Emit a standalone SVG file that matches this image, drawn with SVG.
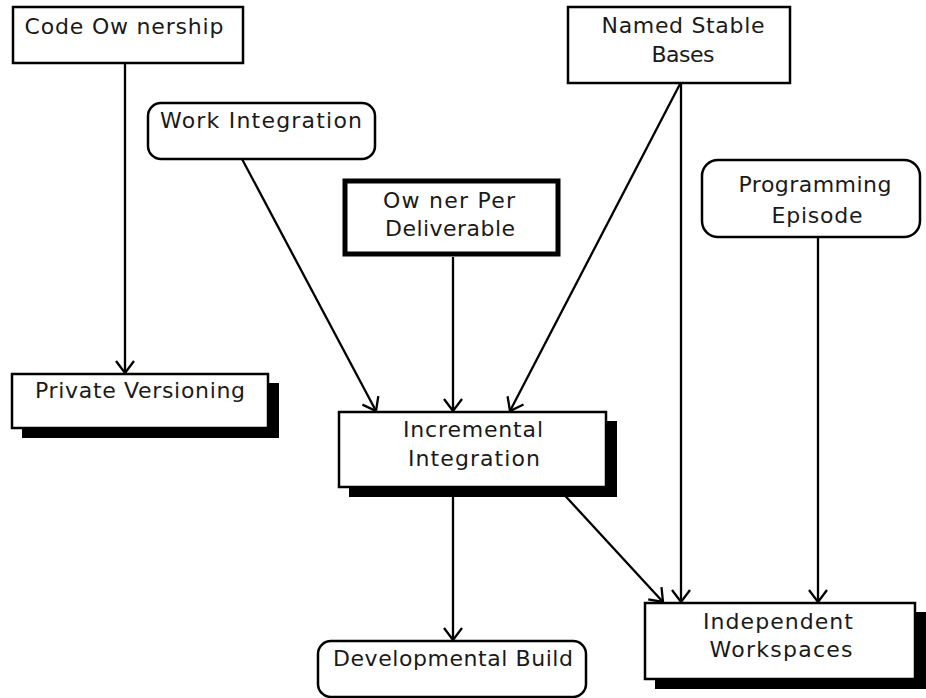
<svg xmlns="http://www.w3.org/2000/svg" width="926" height="698" viewBox="0 0 926 698">
<style>
.box{fill:#fff;stroke:#000;stroke-width:2.5}
.thick{fill:#fff;stroke:#000;stroke-width:5}
.shadow{fill:#000}
.t{font-family:"DejaVu Sans","Liberation Sans",sans-serif;font-size:22px;fill:#1a1a1a;text-anchor:middle}
.c{fill:none;stroke:#000;stroke-width:2.3}
</style>
<defs>
<marker id="arr" viewBox="0 0 14 20" refX="13" refY="10" markerWidth="14" markerHeight="20" markerUnits="userSpaceOnUse" orient="auto">
<path d="M1,1 L13,10 L1,19" fill="none" stroke="#000" stroke-width="2.3"/>
</marker>
</defs>
<rect width="926" height="698" fill="#fff"/>
<g id="connectors">
<line class="c" x1="125" y1="64" x2="125" y2="373" marker-end="url(#arr)"/>
<line class="c" x1="242" y1="159" x2="376" y2="411" marker-end="url(#arr)"/>
<line class="c" x1="453" y1="257" x2="453" y2="411" marker-end="url(#arr)"/>
<line class="c" x1="680" y1="84" x2="510" y2="411" marker-end="url(#arr)"/>
<line class="c" x1="681" y1="84" x2="681" y2="602" marker-end="url(#arr)"/>
<line class="c" x1="818" y1="238" x2="818" y2="602" marker-end="url(#arr)"/>
<line class="c" x1="558" y1="488" x2="663" y2="602" marker-end="url(#arr)"/>
<line class="c" x1="453" y1="488" x2="453" y2="640" marker-end="url(#arr)"/>
</g>
<g id="code-ownership">
<rect class="box" x="13" y="7" width="230" height="56"/>
<text class="t" x="124" y="34" textLength="199">Code Ow nership</text>
</g>
<g id="work-integration">
<rect class="box" x="148" y="103" width="227" height="56" rx="13"/>
<text class="t" x="261" y="128" textLength="202">Work Integration</text>
</g>
<g id="owner-per-deliverable">
<rect class="thick" x="345" y="181" width="213" height="73"/>
<text class="t" x="449" y="208" textLength="132">Ow ner Per</text>
<text class="t" x="450" y="236" textLength="130">Deliverable</text>
</g>
<g id="named-stable-bases">
<rect class="box" x="568" y="7" width="222" height="76"/>
<text class="t" x="683" y="33" textLength="163">Named Stable</text>
<text class="t" x="683" y="62" textLength="63">Bases</text>
</g>
<g id="programming-episode">
<rect class="box" x="702" y="160" width="218" height="77" rx="16"/>
<text class="t" x="815" y="192" textLength="153">Programming</text>
<text class="t" x="817" y="223" textLength="91">Episode</text>
</g>
<g id="private-versioning">
<rect class="shadow" x="22" y="383" width="257" height="55"/>
<rect class="box" x="12" y="374" width="256" height="54"/>
<text class="t" x="140" y="398" textLength="210">Private Versioning</text>
</g>
<g id="incremental-integration">
<rect class="shadow" x="349" y="421" width="268" height="76"/>
<rect class="box" x="339" y="412" width="267" height="75"/>
<text class="t" x="473" y="437" textLength="140">Incremental</text>
<text class="t" x="474" y="466" textLength="132">Integration</text>
</g>
<g id="independent-workspaces">
<rect class="shadow" x="655" y="612" width="271" height="77"/>
<rect class="box" x="645" y="603" width="270" height="76"/>
<text class="t" x="778" y="629" textLength="150">Independent</text>
<text class="t" x="781" y="657" textLength="143">Workspaces</text>
</g>
<g id="developmental-build">
<rect class="box" x="318" y="641" width="268" height="56" rx="13"/>
<text class="t" x="453" y="666" textLength="240">Developmental Build</text>
</g>
</svg>
